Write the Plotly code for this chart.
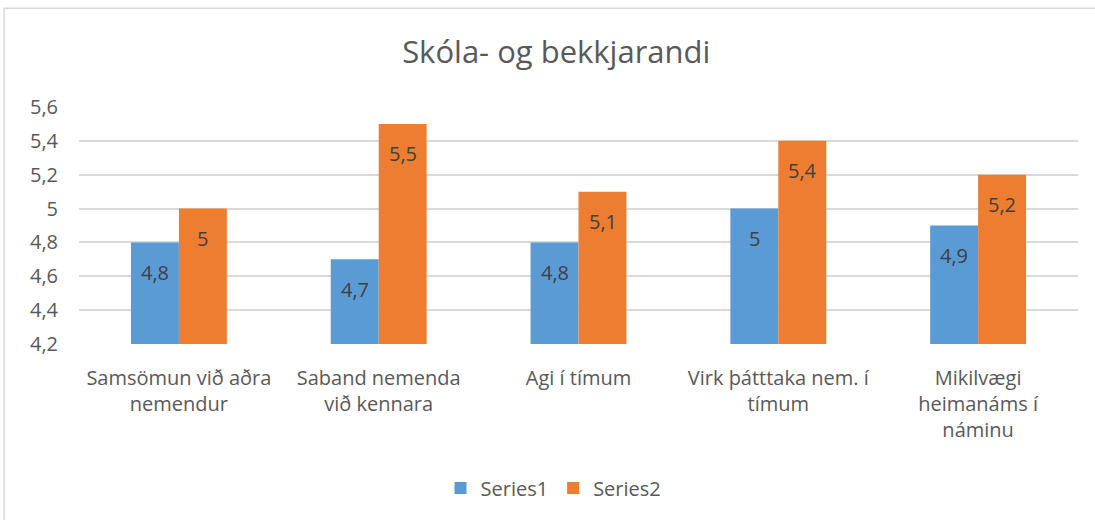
import plotly.graph_objects as go

categories = ["Samsömun við aðra<br>nemendur", "Saband nemenda<br>við kennara", "Agi í tímum",
              "Virk þátttaka nem. í<br>tímum", "Mikilvægi<br>heimanáms í<br>náminu"]
series1 = [4.8, 4.7, 4.8, 5.0, 4.9]
series2 = [5.0, 5.5, 5.1, 5.4, 5.2]
series1_labels = ["4,8", "4,7", "4,8", "5", "4,9"]
series2_labels = ["5", "5,5", "5,1", "5,4", "5,2"]
y_ticks = [4.2, 4.4, 4.6, 4.8, 5.0, 5.2, 5.4, 5.6]
y_ticktext = ["4,2", "4,4", "4,6", "4,8", "5", "5,2", "5,4", "5,6"]

FONT = "'Open Sans', Lato, sans-serif"
BLUE = "#5B9BD5"
ORANGE = "#ED7D31"

fig = go.Figure()
fig.add_trace(go.Bar(x=categories, y=series1, name="Series1", marker_color=BLUE,
                     marker_line_width=0))
fig.add_trace(go.Bar(x=categories, y=series2, name="Series2", marker_color=ORANGE,
                     marker_line_width=0))

annotations = []
for cat, v, t in zip(categories, series1, series1_labels):
    annotations.append(dict(x=cat, y=v, text=t, xref="x", yref="y", showarrow=False,
                            xshift=-24, yshift=-30, font=dict(family=FONT, size=20, color="#404040")))
for cat, v, t in zip(categories, series2, series2_labels):
    annotations.append(dict(x=cat, y=v, text=t, xref="x", yref="y", showarrow=False,
                            xshift=24, yshift=-30, font=dict(family=FONT, size=20, color="#404040")))

fig.update_layout(
    width=1095, height=520,
    margin=dict(l=79, r=17, t=107, b=176),
    paper_bgcolor="white", plot_bgcolor="white",
    barmode="group", bargap=0.52, bargroupgap=0,
    title=dict(text="Skóla- og bekkjarandi", x=0.508, xanchor="center", y=0.9, yanchor="middle",
               font=dict(family=FONT, size=31, color="#595959")),
    font=dict(family=FONT, size=20, color="#595959"),
    legend=dict(orientation="h", x=0.475, xanchor="center", y=-0.6076, yanchor="middle",
                font=dict(family=FONT, size=20, color="#595959"), itemwidth=30,
                traceorder="normal"),
    annotations=annotations,
    shapes=[dict(type="rect", xref="paper", yref="paper", x0=-0.075, x1=1.03,
                 y0=-1.2, y1=1.417, line=dict(color="#D9D9D9", width=1.5), layer="below")],
    yaxis=dict(range=[4.2, 5.6], tickvals=y_ticks, ticktext=y_ticktext, showgrid=True,
               gridcolor="#D9D9D9", gridwidth=1.5, zeroline=False, showline=False,
               ticks="", ticklabelstandoff=20, tickfont=dict(size=20, color="#595959")),
    xaxis=dict(showgrid=False, showline=False, ticks="", ticklabelstandoff=20,
               tickfont=dict(size=20, color="#595959")),
)

fig.write_html("out.html", config={"displayModeBar": False},
               post_script="document.body.style.margin='0';")
